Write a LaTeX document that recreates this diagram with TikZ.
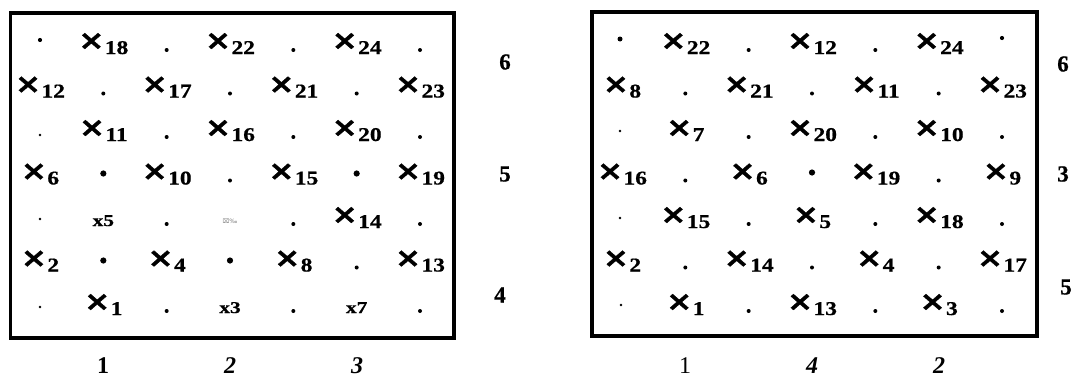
\documentclass[tikz,border=0pt]{standalone}
\usepackage{fontspec}
\setmainfont{Liberation Serif}
\newfontfamily\dejavu{DejaVu Sans}
\newfontfamily\dejavub{DejaVu Sans}[FakeBold=1.1]
\newfontfamily\subf{Liberation Serif}[UprightFont={* Bold},FakeBold=0.7]
\usepackage{graphicx}
\newcommand{\X}[1]{\raisebox{2.5pt}{\scalebox{1.15}[1]{\dejavub\bfseries\fontsize{27}{27}\selectfont ×}}\kern0.5pt\raisebox{-2pt}{\subf\fontsize{19.5}{19.5}\selectfont\scalebox{1.2}[1]{#1}}}
\newcommand{\PX}[1]{{\subf\fontsize{16.5}{16.5}\selectfont\scalebox{1.3}[1]{#1}}}
\tikzset{
  entry/.style={anchor=base,inner sep=0pt,outer sep=0pt},
  period/.style={circle,fill=black,inner sep=0pt,minimum size=4pt},
  bullet/.style={circle,fill=black,inner sep=0pt,minimum size=6.2pt},
  small/.style={circle,fill=black,inner sep=0pt,minimum size=2.8pt},
  frame/.style={draw=black,line width=3.5pt,inner sep=0pt,anchor=north west},
  rlab/.style={font=\subf\fontsize{23}{23}\selectfont,inner sep=0pt},
  blab/.style={font=\fontsize{24}{24}\selectfont,inner sep=0pt},
  blabbi/.style={font=\fontsize{24}{24}\selectfont\bfseries\itshape,inner sep=0pt},
}
\begin{document}
\begin{tikzpicture}[x=1pt,y=-1pt]
\path[use as bounding box] (0,0) rectangle (1090,378);
% frames
\node[frame,minimum width=443.5pt,minimum height=325pt] (boxL) at (8.5,11) {};
\node[frame,minimum width=445pt,minimum height=324pt] (boxR) at (590,10) {};
% ---------- left grid ----------
\foreach \c/\r/\t in {1/0/18,3/0/22,5/0/24,
  0/1/12,2/1/17,4/1/21,6/1/23,
  1/2/11,3/2/16,5/2/20,
  0/3/6,2/3/10,4/3/15,6/3/19,
  5/4/14,
  0/5/2,2/5/4,4/5/8,6/5/13,
  1/6/1}
  \node[entry] (L\c\r) at ({40+63.333*\c},{52+43.5*\r}) {\X{\t}};
\node[entry] (L14) at ({40+63.333*1},{52+43.5*4}) {\PX{x5}};
\node[entry] (L36) at ({40+63.333*3},{52+43.5*6}) {\PX{x3}};
\node[entry] (L56) at ({40+63.333*5},{52+43.5*6}) {\PX{x7}};
\node[entry,text=gray] (L34) at ({40+63.333*3},{52+43.5*4-3}) {\dejavu\fontsize{6}{6}\selectfont ⌧‰};
% left dots
\foreach \c/\r in {2/0,4/0,6/0,1/1,3/1,5/1,2/2,4/2,6/2,3/3,2/4,4/4,6/4,5/5,2/6,4/6,6/6}
  \node[period] (Ld\c\r) at ({40+63.333*\c},{52+43.5*\r-2}) {};
\foreach \c/\r in {1/3,5/3,1/5,3/5}
  \node[bullet] (Lb\c\r) at ({40+63.333*\c},{52+43.5*\r-9}) {};
\node[period,minimum size=4.2pt] (Ls00) at (40,40) {};
\node[small] (Ls02) at (40,{52+43.5*2-4}) {};
\node[small] (Ls04) at (40,{52+43.5*4-7}) {};
\node[small] (Ls06) at (40,{52+43.5*6-6}) {};
% ---------- right grid ----------
\foreach \c/\r/\t in {1/0/22,3/0/12,5/0/24,
  0/1/8,2/1/21,4/1/11,6/1/23,
  1/2/7,3/2/20,5/2/10,
  0/3/16,2/3/6,4/3/19,6/3/9,
  1/4/15,3/4/5,5/4/18,
  0/5/2,2/5/14,4/5/4,6/5/17,
  1/6/1,3/6/13,5/6/3}
  \node[entry] (R\c\r) at ({622+63.333*\c},{52+43.5*\r}) {\X{\t}};
\foreach \c/\r in {2/0,4/0,1/1,3/1,5/1,2/2,4/2,6/2,1/3,5/3,2/4,4/4,6/4,1/5,3/5,5/5,2/6,4/6,6/6}
  \node[period] (Rd\c\r) at ({622+63.333*\c},{52+43.5*\r-2}) {};
\node[bullet,minimum size=5pt] (Rb00) at (620,39) {};
\node[period,minimum size=4.2pt] (Rb60) at (1002,38) {};
\node[bullet] (Rb33) at ({622+63.333*3},{52+43.5*3-10}) {};
\node[small] (Rs02) at (620,{52+43.5*2-8}) {};
\node[small] (Rs04) at (620,{52+43.5*4-8}) {};
\node[small] (Rs06) at (621,{52+43.5*6-8}) {};
% ---------- side labels ----------
\node[rlab] (lr6) at (505,62) {6};
\node[rlab] (lr5) at (505,174) {5};
\node[rlab] (lr4) at (500,295) {4};
\node[rlab] (rr6) at (1063,64) {6};
\node[rlab] (rr3) at (1063,174) {3};
\node[rlab] (rr5) at (1066,287) {5};
% ---------- bottom labels ----------
\node[blab,font=\fontsize{24}{24}\selectfont\bfseries] (lb1) at (103,366) {1};
\node[blabbi] (lb2) at (230,366) {2};
\node[blabbi] (lb3) at (357,366) {3};
\node[blab] (rb1) at (685,366) {1};
\node[blabbi] (rb4) at (812,366) {4};
\node[blabbi] (rb2) at (939,366) {2};
\end{tikzpicture}
\end{document}
